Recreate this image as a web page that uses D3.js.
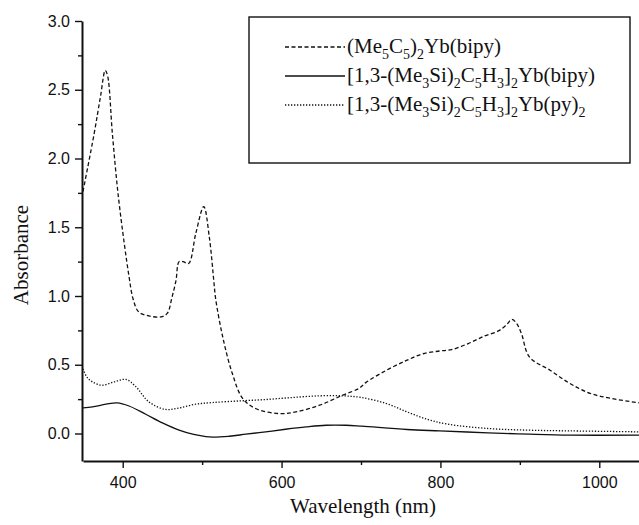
<!DOCTYPE html>
<html>
<head>
<meta charset="utf-8">
<script src="https://cdn.jsdelivr.net/npm/d3@7"></script>
<style>
  body { margin: 0; background: #fff; }
  .tick text { font-family: "Liberation Sans", Arial, sans-serif; font-size: 16px; fill: #111; }
</style>
</head>
<body>
<div id="svg"></div>
<script>
// spectra (wavelength nm, absorbance)
var cpWave = [350,364,372,378,381,387,394,402,408,413,420,433,448,456,462,467,471,476,483,492,502,509,515,517,526,538,551,568,597,618,648,677,698,706,732,758,778,799,814,835,855,873,883,890,896,902,912,938,963,989,1015,1050];
var cpAbs  = [1.76,2.18,2.45,2.64,2.60,2.18,1.75,1.38,1.14,0.98,0.885,0.855,0.848,0.873,0.99,1.11,1.25,1.25,1.236,1.455,1.65,1.43,1.09,0.98,0.70,0.436,0.255,0.18,0.145,0.157,0.206,0.279,0.33,0.37,0.46,0.533,0.58,0.60,0.61,0.654,0.708,0.746,0.79,0.83,0.80,0.727,0.557,0.46,0.364,0.291,0.255,0.223];

var bipyWave = [350,362,379,393,408,429,450,471,488,509,534,555,580,605,631,656,681,701,758,799,860,912,963,1050];
var bipyAbs  = [0.186,0.194,0.213,0.223,0.20,0.14,0.077,0.024,-0.005,-0.025,-0.02,-0.005,0.012,0.031,0.048,0.06,0.06,0.053,0.029,0.019,0.005,-0.005,-0.012,-0.012];

var pyWave = [350,355,362,374,389,404,416,433,454,471,492,513,547,580,614,648,677,700,732,758,784,809,861,912,963,1050];
var pyAbs  = [0.47,0.41,0.375,0.351,0.375,0.393,0.344,0.23,0.175,0.186,0.213,0.225,0.237,0.247,0.262,0.274,0.274,0.262,0.218,0.157,0.102,0.068,0.036,0.024,0.019,0.012];

var xTicks = [400,600,800,1000];
var xMinor = [500,700,900];
var yTicks = [0,0.5,1.0,1.5,2.0,2.5,3.0];
var yMinor = [0.25,0.75,1.25,1.75,2.25,2.75];

var seriesNames = ["(Me_5C_5)_2Yb(bipy)", "[1,3-(Me_3Si)_2C_5H_3]_2Yb(bipy)", "[1,3-(Me_3Si)_2C_5H_3]_2Yb(py)_2"];
var seriesDash = ["4,2.5", null, "1.3,1.7"];

var svgWidth = 639, svgHeight = 525;
var svg = d3.select("#svg").append("svg")
    .attr("width", svgWidth)
    .attr("height", svgHeight);

var xScale = d3.scaleLinear().domain([350,1050]).range([83,639]);
var yScale = d3.scaleLinear().domain([-0.2,3.0]).range([461,21]);

// minor ticks first, then major with labels
svg.append("g")
    .attr("transform", "translate(0,461)")
    .call(d3.axisBottom(xScale).tickValues(xMinor).tickSize(4).tickFormat(""))
    .call(g => g.select(".domain").remove());
svg.append("g")
    .attr("transform", "translate(82,0)")
    .call(d3.axisLeft(yScale).tickValues(yMinor).tickSize(4).tickFormat(""))
    .call(g => g.select(".domain").remove());

var xAxis = svg.append("g")
    .attr("transform", "translate(0,461)")
    .call(d3.axisBottom(xScale).tickValues(xTicks).tickSize(7).tickSizeOuter(0).tickPadding(9).tickFormat(d3.format("d")));
var yAxis = svg.append("g")
    .attr("transform", "translate(82,0)")
    .call(d3.axisLeft(yScale).tickValues(yTicks).tickSize(7).tickSizeOuter(0).tickPadding(5).tickFormat(d3.format(".1f")));

svg.selectAll(".domain").attr("stroke", "#111").attr("stroke-width", 2);
svg.selectAll(".tick line").attr("stroke", "#111").attr("stroke-width", 1.4);

// axis titles
svg.append("text")
    .attr("x", 363).attr("y", 513)
    .attr("text-anchor", "middle")
    .attr("font-family", "Liberation Serif, Times New Roman, serif")
    .attr("font-size", 21)
    .attr("fill", "#111")
    .text("Wavelength (nm)");
svg.append("text")
    .attr("transform", "translate(28,255)rotate(-90)")
    .attr("text-anchor", "middle")
    .attr("font-family", "Liberation Serif, Times New Roman, serif")
    .attr("font-size", 21)
    .attr("fill", "#111")
    .text("Absorbance");

// curves
var line = d3.line()
    .x(d => xScale(d[0]))
    .y(d => yScale(d[1]))
    .curve(d3.curveCatmullRom.alpha(0.5));

var series = [d3.zip(cpWave, cpAbs), d3.zip(bipyWave, bipyAbs), d3.zip(pyWave, pyAbs)];
svg.append("clipPath").attr("id", "plot")
    .append("rect").attr("x", 83).attr("y", 0).attr("width", 556).attr("height", 461);

series.forEach(function(s, i){
    svg.append("path")
        .datum(s)
        .attr("clip-path", "url(#plot)")
        .attr("fill", "none")
        .attr("stroke", "#111")
        .attr("stroke-width", 1.3)
        .attr("stroke-dasharray", seriesDash[i])
        .attr("d", line);
});

// legend box
var legend = svg.append("g");
legend.append("rect")
    .attr("x", 249).attr("y", 17)
    .attr("width", 381).attr("height", 146)
    .attr("fill", "#fff")
    .attr("stroke", "#111")
    .attr("stroke-width", 1.4);

// write a label with _x meaning subscript x
function addLabel(text, x, y){
    var t = legend.append("text")
        .attr("x", x).attr("y", y)
        .attr("font-family", "Liberation Serif, Times New Roman, serif")
        .attr("font-size", 21)
        .attr("fill", "#111");
    var parts = text.split(/(_.)/);
    var down = false;
    parts.forEach(function(p){
        if(p === "") return;
        if(p[0] === "_"){
            t.append("tspan").attr("font-size", 14).attr("dy", down ? 0 : 6).text(p[1]);
            down = true;
        } else {
            t.append("tspan").attr("dy", down ? -6 : 0).text(p);
            down = false;
        }
    });
}

seriesNames.forEach(function(name, i){
    var ly = 47 + i * 29;
    legend.append("line")
        .attr("x1", 285).attr("x2", 345)
        .attr("y1", ly).attr("y2", ly)
        .attr("stroke", "#111")
        .attr("stroke-width", 1.3)
        .attr("stroke-dasharray", seriesDash[i]);
    addLabel(name, 347, ly + 6);
});
</script>
</body>
</html>
